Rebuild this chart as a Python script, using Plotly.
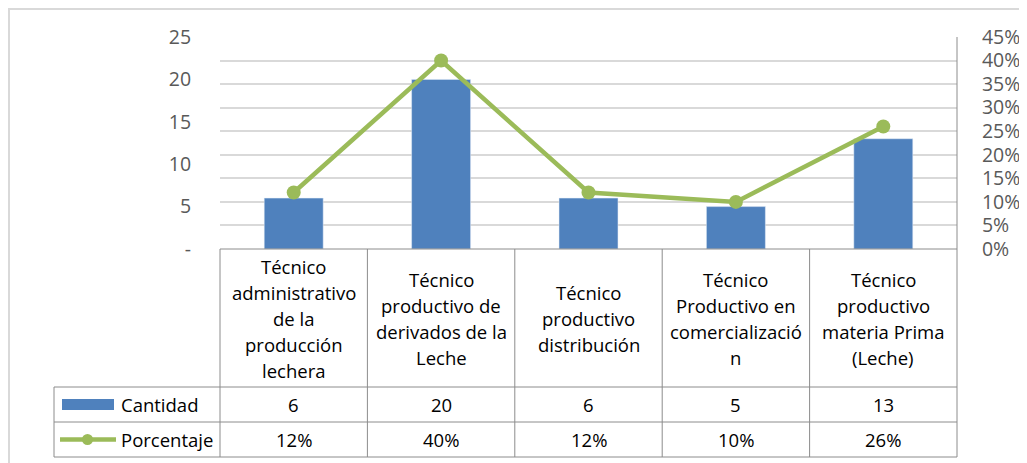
import plotly.graph_objects as go

# datos
categorias = [
    ["Técnico", "administrativo", "de la", "producción", "lechera"],
    ["Técnico", "productivo de", "derivados de la", "Leche"],
    ["Técnico", "productivo", "distribución"],
    ["Técnico", "Productivo en", "comercializació", "n"],
    ["Técnico", "productivo", "materia Prima", "(Leche)"],
]
cantidad = [6, 20, 6, 5, 13]
porcentaje = [0.12, 0.40, 0.12, 0.10, 0.26]
y_ticks = [0, 5, 10, 15, 20, 25]
y_ticktext = ["-", "5", "10", "15", "20", "25"]

# la página añade 8px de margen; se trabaja en px de la imagen y se compensa
OFF = 8
W, H = 1027 - OFF, 463 - OFF
PL, PR, PT, PB = 220, 957, 37, 249      # área de trazado (px de la imagen)
ROW1, ROW2, ROW3 = 387, 422, 457        # filas de la tabla
LEG_L = 54

AZUL = "#4F81BD"
VERDE = "#9BBB59"
GRIS_TXT = "#595959"
GRIS_TAB = "#8C8C8C"


def px(x):
    return (x - OFF) / W


def py(y):
    return 1 - (y - OFF) / H


xs = list(range(len(cantidad)))

fig = go.Figure()

fig.add_trace(go.Bar(x=xs, y=cantidad, name="Cantidad", marker_color=AZUL,
                     width=0.4, yaxis="y"))
fig.add_trace(go.Scatter(x=xs, y=porcentaje, name="Porcentaje", mode="lines+markers",
                         line=dict(color=VERDE, width=4.5),
                         marker=dict(color=VERDE, size=14), yaxis="y2"))

shapes = []
def linea(x0, y0, x1, y1, color=GRIS_TAB, w=1):
    shapes.append(dict(type="line", xref="paper", yref="paper",
                       x0=px(x0), y0=py(y0), x1=px(x1), y1=py(y1),
                       line=dict(color=color, width=w)))

# borde exterior
shapes.append(dict(type="rect", xref="paper", yref="paper",
                   x0=px(9), y0=py(9), x1=px(1040), y1=py(480),
                   line=dict(color="#D9D9D9", width=2)))

# tabla de datos
cw = (PR - PL) / len(cantidad)
linea(PL, PB, PR, PB)
for y in (ROW1, ROW2, ROW3):
    linea(LEG_L, y, PR, y)
linea(LEG_L, ROW1, LEG_L, ROW3)
for i in range(len(cantidad) + 1):
    linea(PL + i * cw, PB, PL + i * cw, ROW3)
linea(PR, PT, PR, PB)

# leyenda dentro de la tabla
shapes.append(dict(type="rect", xref="paper", yref="paper",
                   x0=px(62), y0=py(399), x1=px(114), y1=py(410),
                   fillcolor=AZUL, line=dict(width=0)))
linea(60, 439.5, 116, 439.5, color=VERDE, w=4.5)
shapes.append(dict(type="circle", xref="paper", yref="paper",
                   x0=px(82), y0=py(434), x1=px(93), y1=py(445),
                   fillcolor=VERDE, line=dict(width=0)))

ann = []
fnt = dict(family="Open Sans", size=18.5, color="#000000")
ann.append(dict(xref="paper", yref="paper", x=px(119), y=py(404.5), text="Cantidad",
                showarrow=False, xanchor="left", yanchor="middle", font=fnt))
ann.append(dict(xref="paper", yref="paper", x=px(119), y=py(439.5), text="Porcentaje",
                showarrow=False, xanchor="left", yanchor="middle", font=fnt))

LS = 26
for i, lineas in enumerate(categorias):
    cx = PL + (i + 0.5) * cw
    cy = (PB + ROW1) / 2
    y0 = cy - LS * (len(lineas) - 1) / 2
    for k, t in enumerate(lineas):
        ann.append(dict(xref="paper", yref="paper", x=px(cx), y=py(y0 + k * LS), text=t,
                        showarrow=False, xanchor="center", yanchor="middle", font=fnt))
    ann.append(dict(xref="paper", yref="paper", x=px(cx), y=py((ROW1 + ROW2) / 2),
                    text=str(cantidad[i]), showarrow=False, xanchor="center",
                    yanchor="middle", font=fnt))
    ann.append(dict(xref="paper", yref="paper", x=px(cx), y=py((ROW2 + ROW3) / 2),
                    text=f"{porcentaje[i]:.0%}", showarrow=False, xanchor="center",
                    yanchor="middle", font=fnt))

fig.update_layout(
    width=W, height=H,
    margin=dict(l=0, r=0, t=0, b=0, pad=0),
    paper_bgcolor="white", plot_bgcolor="white",
    showlegend=False,
    font=dict(family="Open Sans", color=GRIS_TXT),
    xaxis=dict(domain=[px(PL), px(PR)], range=[-0.5, len(cantidad) - 0.5], automargin=False,
               showticklabels=False, showgrid=False, zeroline=False, showline=False),
    yaxis=dict(domain=[py(PB), py(PT)], range=[0, 25], tickvals=y_ticks, ticktext=y_ticktext,
               automargin=False, showgrid=False, zeroline=False, ticks="outside", ticklen=24,
               tickcolor="rgba(0,0,0,0)", tickfont=dict(size=19.5, color=GRIS_TXT)),
    yaxis2=dict(overlaying="y", side="right", range=[0, 0.45], dtick=0.05, tickformat=".0%",
                automargin=False, showgrid=True, gridcolor="#D9D9D9", gridwidth=1.5,
                zeroline=False, ticks="outside", ticklen=20, tickcolor="rgba(0,0,0,0)",
                tickfont=dict(size=19.5, color=GRIS_TXT)),
    shapes=shapes,
    annotations=ann,
)

fig.write_html("out.html")
